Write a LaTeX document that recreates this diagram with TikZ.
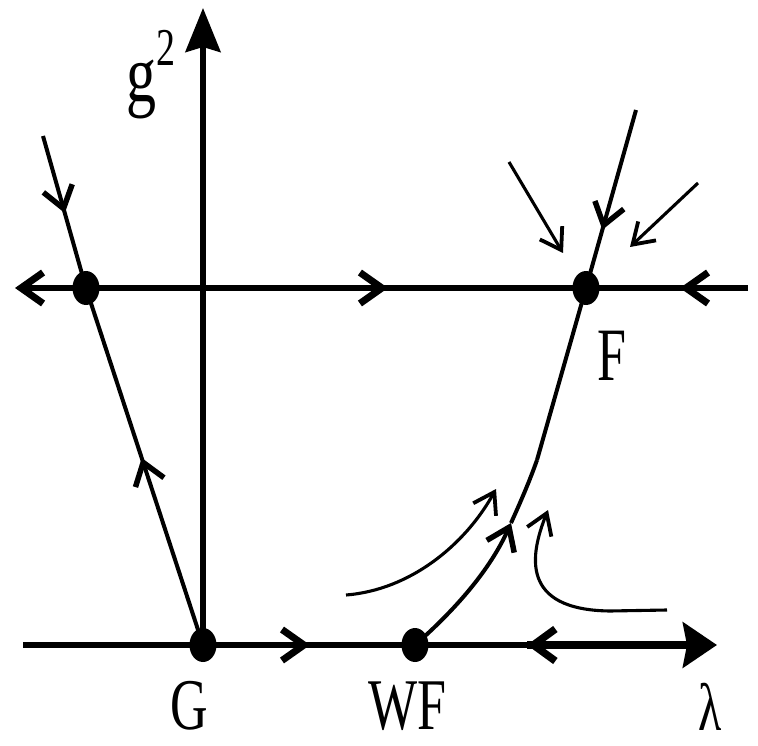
\documentclass[tikz,border=0pt]{standalone}
\usepackage{fontspec}
\setmainfont{Liberation Serif}
\usetikzlibrary{arrows.meta,shapes.geometric,decorations.markings}
\tikzset{
  axbarb/.tip={Straight Barb[length=22pt,width=31pt,line width=7pt,quick]},
  trbarb/.tip={Straight Barb[length=21pt,width=30pt,line width=5.5pt,quick]},
  thbarb/.tip={Straight Barb[length=20pt,width=26pt,line width=3.8pt,quick]},
  marrow/.style 2 args={postaction={decorate},
    decoration={markings,mark=at position #1 with {\arrow{#2}}}},
}
\begin{document}
\begin{tikzpicture}[x=1pt,y=-1pt,
  axisline/.style={line width=5.5pt},
  trajline/.style={line width=4pt},
  thinline/.style={line width=3.1pt},
  boldline/.style={line width=8pt},
  fixpt/.style={ellipse,fill=black,minimum width=27pt,minimum height=34pt,inner sep=0pt},
  lab/.style={inner sep=0pt,font=\fontsize{52pt}{56pt}\selectfont},
]
\useasboundingbox (0,0) rectangle (758,746);
% fixed points
\node[fixpt] (L) at (86,288) {};
\node[fixpt] (G) at (203,645) {};
\node[fixpt] (F) at (586,288) {};
\node[fixpt] (WF) at (415,645) {};
% coordinates
\coordinate (Vtop) at (203,8);
\coordinate (Uleft) at (15,288);
\coordinate (Uend) at (748,288);
\coordinate (Bstart) at (23,645);
\coordinate (Bl) at (527,645);
\coordinate (Bm) at (575,645);
\coordinate (Bend) at (717,645);
\coordinate (Ltop) at (43,136);
\coordinate (Ftop) at (636,110);
\coordinate (Fc) at (537,460);
\coordinate (Mk) at (511,523);
\coordinate (T1s) at (509,162);
\coordinate (T1e) at (563,253);
\coordinate (T2s) at (698,183);
\coordinate (T2e) at (630,247);
\coordinate (C1s) at (346,595);
\coordinate (C1e) at (496,489);
\coordinate (C2s) at (667,610);
\coordinate (C2m) at (610,611);
\coordinate (C2e) at (548,510);
% axes
\draw[axisline,-{Stealth[length=44pt,width=35pt,inset=5pt]}] (G.center) -- (Vtop);
\draw[axisline] (Bstart) -- (G.center);
\draw[axisline,marrow={0.505}{axbarb}] (G.center) -- (WF.center);
\draw[axisline] (WF.center) -- (Bl);
\draw[boldline,-{Stealth[length=34pt,width=45pt,inset=4pt]}] (Bl) -- (Bend);
\draw[boldline,-{Straight Barb[length=22pt,width=32pt,line width=7.5pt,quick]}] (Bm) -- (Bl);
% upper line
\draw[axisline,-{axbarb}] (L.center) -- (Uleft);
\draw[axisline,marrow={0.604}{axbarb}] (L.center) -- (F.center);
\draw[axisline,marrow={0.42}{axbarb}] (Uend) -- (F.center);
% left trajectory
\draw[trajline,marrow={0.507}{trbarb}] (Ltop) -- (L.center);
\draw[trajline,marrow={0.524}{trbarb}] (G.center) -- (L.center);
% right trajectory
\draw[trajline,marrow={0.673}{trbarb}] (Ftop) -- (F.center);
\draw[trajline] (F.center) -- (Fc);
\draw[trajline,-{trbarb}] (WF.center) .. controls (455,610) and (490,570) .. (Mk);
\draw[trajline] (Mk) .. controls (521,501) and (530,480) .. (Fc);
% thin flow arrows
\draw[thinline,-{thbarb}] (T1s) -- (T1e);
\draw[thinline,-{thbarb}] (T2s) -- (T2e);
\draw[thinline,-{thbarb}] (C1s) .. controls (410,590) and (465,545) .. (C1e);
\draw[thinline,-{thbarb}] (C2s) -- (C2m) .. controls (520,610) and (530,555) .. (C2e);
% labels
\node[lab,font=\fontsize{60pt}{64pt}\selectfont] (glab) at (141,89) {\scalebox{1}[1.35]{g}};
\node[lab,font=\fontsize{38pt}{40pt}\selectfont] (sup) at (166,48) {\scalebox{1}[1.4]{2}};
\node[lab] (Glab) at (189,706) {\scalebox{1}[1.4]{G}};
\node[lab] (WFlab) at (407,706) {\scalebox{1}[1.4]{WF}};
\node[lab] (Flab) at (612,356) {\scalebox{1}[1.45]{F}};
\node[lab,font=\fontsize{48pt}{52pt}\selectfont] (lamlab) at (710,707) {\scalebox{1}[1.4]{λ}};
\end{tikzpicture}
\end{document}
